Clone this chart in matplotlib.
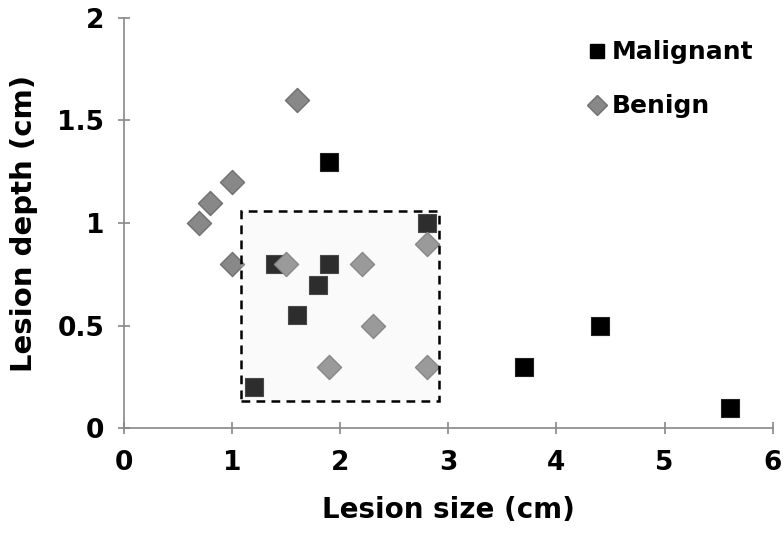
import matplotlib
matplotlib.use("Agg")
import matplotlib.pyplot as plt
from matplotlib.patches import Rectangle
from matplotlib.lines import Line2D

plt.rcParams['font.family'] = ['DejaVu Sans']
plt.rcParams['font.weight'] = 'bold'

mal_x = [1.2, 1.4, 1.6, 1.8, 1.9, 1.9, 2.8, 3.7, 4.4, 5.6]
mal_y = [0.2, 0.8, 0.55, 0.7, 0.8, 1.3, 1.0, 0.3, 0.5, 0.1]
ben_x = [0.7, 0.8, 1.0, 1.0, 1.5, 1.6, 2.2, 2.3, 1.9, 2.8, 2.8]
ben_y = [1.0, 1.1, 1.2, 0.8, 0.8, 1.6, 0.8, 0.5, 0.3, 0.9, 0.3]
box_x = [1.08, 2.91]
box_y = [0.13, 1.06]
xticks = [0, 1, 2, 3, 4, 5, 6]
yticks = [0, 0.5, 1, 1.5, 2]
ytick_labels = ['0', '0.5', '1', '1.5', '2']

fig = plt.figure(figsize=(7.83, 5.44), dpi=100)
ax = fig.add_axes([0.158, 0.213, 0.829, 0.754])

ax.scatter(mal_x, mal_y, marker='s', s=150, color='black', edgecolors='#222222', linewidths=0.8, zorder=3)
ax.scatter(ben_x, ben_y, marker='D', s=150, color='#888888', edgecolors='#707070', linewidths=1.0, zorder=3)

rect = Rectangle((box_x[0], box_y[0]), box_x[1] - box_x[0], box_y[1] - box_y[0],
                 facecolor=(0.9, 0.9, 0.9, 0.2), edgecolor='none', zorder=4)
ax.add_patch(rect)
rect2 = Rectangle((box_x[0], box_y[0]), box_x[1] - box_x[0], box_y[1] - box_y[0],
                  facecolor='none', edgecolor='black', linestyle=(0, (3.5, 2.5)), linewidth=1.8, zorder=5)
ax.add_patch(rect2)

ax.set_xlim(0, 6)
ax.set_ylim(0, 2)
ax.set_xticks(xticks)
ax.set_yticks(yticks)
ax.set_yticklabels(ytick_labels)
for s in ['top', 'right']:
    ax.spines[s].set_visible(False)
for s in ['left', 'bottom']:
    ax.spines[s].set_color('#888888')
    ax.spines[s].set_linewidth(1.2)
ax.tick_params(direction='inout', length=8, width=1.2, color='#888888', labelsize=19)
ax.tick_params(axis='x', pad=12)
ax.tick_params(axis='y', pad=10)
for lab in ax.get_xticklabels() + ax.get_yticklabels():
    lab.set_fontweight('bold')

ax.set_xlabel('Lesion size (cm)', fontsize=20, fontweight='bold', labelpad=14)
ax.set_ylabel('Lesion depth (cm)', fontsize=21, fontweight='bold', labelpad=14)

handles = [Line2D([], [], marker='s', linestyle='none', color='black', markersize=10),
           Line2D([], [], marker='D', linestyle='none', color='#888888', markeredgecolor='#707070', markersize=10)]
ax.legend(handles, ['Malignant', 'Benign'], loc='upper right', bbox_to_anchor=(1.005, 1.0),
          frameon=False, prop={'weight': 'bold', 'size': 18}, handletextpad=0.1,
          handlelength=1.0, labelspacing=1.2)

fig.savefig('out.png', dpi=100)
